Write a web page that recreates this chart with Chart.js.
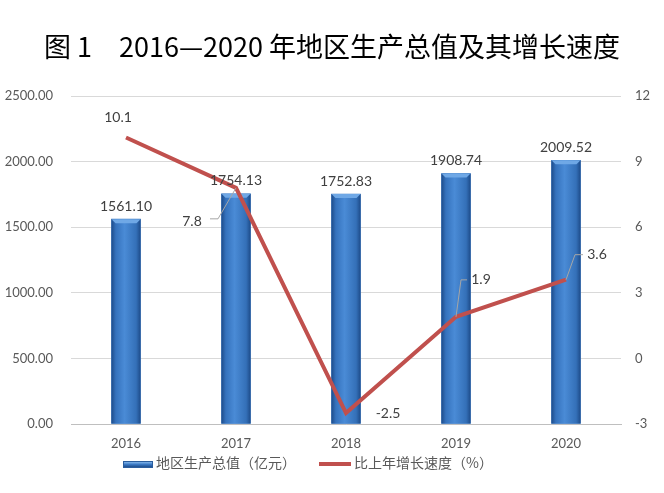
<!DOCTYPE html>
<html>
<head>
<meta charset="utf-8">
<script src="https://cdn.jsdelivr.net/npm/chart.js@4.4.0/dist/chart.umd.min.js"></script>
<style>
  body { margin: 0; background: #fff; }
  #wrap { position: relative; width: 664px; height: 493px; }
  #title {
    position: absolute; left: 0; top: 26px; width: 664px; text-align: center;
    font-family: "Noto Sans CJK SC", sans-serif; font-size: 27px; font-weight: 400; color: #000;
    white-space: pre;
  }
  #legend {
    position: absolute; left: -24px; top: 452px; width: 664px; text-align: center;
    font-family: "Noto Sans CJK SC", sans-serif; font-size: 14px; color: #595959;
  }
  #legend span.item { display: inline-block; margin: 0 10px; }
  .swatch { display: inline-block; vertical-align: middle; margin-right: 3px; }
  .bar-sw { width: 30px; height: 7px; background: linear-gradient(#7fb4ea, #3a78c3 50%, #1f4e8c); border: 1px solid #2a5d9e; box-sizing: border-box; }
  .line-sw { width: 32px; height: 4px; background: #C0504D; }
</style>
</head>
<body>
<div id="wrap">
  <div id="title">图 1　2016—2020 年地区生产总值及其增长速度</div>
  <canvas id="chart" width="664" height="493"></canvas>
  <div id="legend">
    <span class="item"><span class="swatch bar-sw"></span>地区生产总值（亿元）</span>
    <span class="item"><span class="swatch line-sw"></span>比上年增长速度（%）</span>
  </div>
</div>
<script>
// Data
const years = ['2016', '2017', '2018', '2019', '2020'];
const gdpValues = [1561.10, 1754.13, 1752.83, 1908.74, 2009.52];
const growthRates = [10.1, 7.8, -2.5, 1.9, 3.6];

// label placement for the growth line (dx, dy from point, optional leader elbow)
const lineLabelPos = [
    { dx: -8, dy: -20 },
    { dx: -44, dy: 34, leader: [[-18, 31], [-26, 31]] },
    { dx: 42, dy: 0 },
    { dx: 25, dy: -37, leader: [[5, -37], [11, -37]] },
    { dx: 31, dy: -25, leader: [[9, -25], [17, -25]] }
];

const FONT = 'Lato, "Liberation Sans", sans-serif';

// bevelled gradient bars + value labels
const decoratePlugin = {
    id: 'decorate',
    afterDatasetDraw(chart, args) {
        if (args.index !== 0) return;
        const ctx = chart.ctx;
        args.meta.data.forEach((bar) => {
            const w = bar.width, left = bar.x - w / 2, top = bar.y, bottom = bar.base;
            const g = ctx.createLinearGradient(left, 0, left + w, 0);
            g.addColorStop(0, '#1e4c8a');
            g.addColorStop(0.15, '#3572bd');
            g.addColorStop(0.45, '#4a8bd6');
            g.addColorStop(0.85, '#3470b8');
            g.addColorStop(1, '#1e4c8a');
            ctx.save();
            ctx.fillStyle = g;
            ctx.fillRect(left, top, w, bottom - top);
            // top bevel
            const b = 4;
            ctx.fillStyle = '#6fa8e6';
            ctx.beginPath();
            ctx.moveTo(left, top);
            ctx.lineTo(left + w, top);
            ctx.lineTo(left + w - b, top + b);
            ctx.lineTo(left + b, top + b);
            ctx.closePath();
            ctx.fill();
            ctx.restore();
        });
    },
    afterDatasetsDraw(chart) {
        const ctx = chart.ctx;
        chart.getDatasetMeta(0).data.forEach((bar, i) => {
            ctx.save();
            ctx.fillStyle = '#404040';
            ctx.font = '14px ' + FONT;
            ctx.textAlign = 'center';
            ctx.textBaseline = 'middle';
            ctx.fillText(gdpValues[i].toFixed(2), bar.x, bar.y - 13);
            ctx.restore();
        });
        chart.getDatasetMeta(1).data.forEach((pt, i) => {
            const p = lineLabelPos[i];
            ctx.save();
            if (p.leader) {
                ctx.strokeStyle = '#a6a6a6';
                ctx.lineWidth = 1;
                ctx.beginPath();
                ctx.moveTo(pt.x, pt.y);
                p.leader.forEach(([lx, ly]) => ctx.lineTo(pt.x + lx, pt.y + ly));
                ctx.stroke();
            }
            ctx.fillStyle = '#404040';
            ctx.font = '14px ' + FONT;
            ctx.textAlign = 'center';
            ctx.textBaseline = 'middle';
            ctx.fillText(String(growthRates[i]), pt.x + p.dx, pt.y + p.dy);
            ctx.restore();
        });
    }
};

new Chart(document.getElementById('chart'), {
    data: {
        labels: years,
        datasets: [{
            type: 'bar',
            label: '地区生产总值（亿元）',
            data: gdpValues,
            backgroundColor: '#3a78c3',
            barThickness: 29,
            yAxisID: 'y',
            order: 2
        }, {
            type: 'line',
            label: '比上年增长速度（%）',
            data: growthRates,
            borderColor: '#C0504D',
            borderWidth: 4,
            pointRadius: 0,
            tension: 0,
            yAxisID: 'y1',
            order: 1
        }]
    },
    options: {
        responsive: false,
        animation: false,
        layout: { padding: { top: 96, bottom: 39, left: 0, right: 0 } },
        plugins: {
            legend: { display: false },
            tooltip: { enabled: false }
        },
        scales: {
            x: {
                grid: { display: false, drawTicks: false },
                border: { color: '#bfbfbf' },
                ticks: { color: '#595959', font: { family: FONT, size: 13 }, padding: 12 },
                afterFit(axis) { axis.height = 30; }
            },
            y: {
                position: 'left',
                min: 0, max: 2500,
                ticks: {
                    stepSize: 500, color: '#595959', font: { family: FONT, size: 13 }, padding: 18,
                    callback: v => v.toFixed(2)
                },
                grid: { color: '#d9d9d9', drawTicks: false },
                border: { display: false },
                afterFit(axis) { axis.width = 71; }
            },
            y1: {
                position: 'right',
                min: -3, max: 12,
                ticks: { stepSize: 3, color: '#595959', font: { family: FONT, size: 13 }, padding: 14 },
                grid: { display: false, drawTicks: false },
                border: { display: false },
                afterFit(axis) { axis.width = 43; }
            }
        }
    },
    plugins: [decoratePlugin]
});
</script>
</body>
</html>
